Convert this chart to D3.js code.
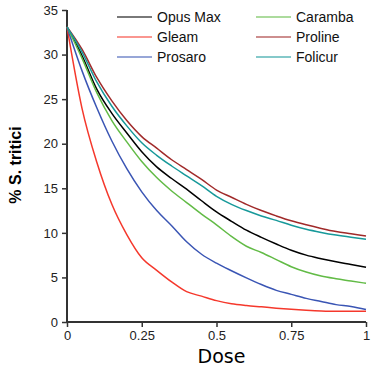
<!DOCTYPE html>
<html>
<head>
<meta charset="utf-8">
<script src="https://cdn.jsdelivr.net/npm/d3@7"></script>
<style>
  body { margin: 0; background: #fff; }
  text { font-family: "Liberation Sans", Arial, sans-serif; }
</style>
</head>
<body>
<div class="chart"></div>
<script>
var svgWidth = 373;
var svgHeight = 369;

var margin = { top: 10, right: 7, bottom: 47, left: 67 };
var width = svgWidth - margin.left - margin.right;
var height = svgHeight - margin.top - margin.bottom;

// Data
var doses = [0, 0.05, 0.1, 0.15, 0.2, 0.25, 0.3, 0.35, 0.4, 0.45, 0.5,
             0.55, 0.6, 0.65, 0.7, 0.75, 0.8, 0.85, 0.9, 0.95, 1];
var opusMax = [33.1, 29.9, 26.1, 23.4, 21.2, 19.1, 17.4, 16.1, 14.9, 13.6, 12.35,
               11.3, 10.3, 9.5, 8.75, 8.05, 7.5, 7.1, 6.75, 6.45, 6.14];
var gleam = [33.1, 24.0, 17.9, 13.2, 9.8, 7.2, 5.8, 4.5, 3.4, 2.9, 2.4,
             2.05, 1.85, 1.7, 1.55, 1.42, 1.32, 1.24, 1.2, 1.2, 1.2];
var prosaro = [33.1, 28.2, 24.0, 20.3, 17.2, 14.6, 12.5, 10.8, 9.0, 7.6, 6.6,
               5.75, 4.95, 4.2, 3.55, 3.1, 2.65, 2.3, 1.95, 1.75, 1.4];
var caramba = [33.1, 29.6, 25.7, 22.6, 20.2, 18.0, 16.2, 14.7, 13.4, 12.1, 10.9,
               9.6, 8.5, 7.8, 7.0, 6.2, 5.6, 5.15, 4.85, 4.6, 4.34];
var proline = [33.1, 30.6, 27.4, 24.8, 22.6, 20.8, 19.5, 18.2, 17.1, 16.0, 14.8,
               14.0, 13.2, 12.5, 11.9, 11.35, 10.9, 10.5, 10.15, 9.9, 9.65];
var folicur = [33.1, 30.3, 26.9, 24.2, 22.0, 20.1, 18.7, 17.5, 16.4, 15.3, 14.1,
               13.2, 12.5, 11.9, 11.4, 10.85, 10.4, 10.05, 9.75, 9.5, 9.28];

var seriesNames = ["Opus Max", "Gleam", "Prosaro", "Caramba", "Proline", "Folicur"];
var seriesValues = [opusMax, gleam, prosaro, caramba, proline, folicur];
var seriesColors = ["#000000", "#f5382c", "#3a55b4", "#62bb46", "#a02a2a", "#17999a"];

var xTicks = [0, 0.25, 0.5, 0.75, 1];
var yTicks = [0, 5, 10, 15, 20, 25, 30, 35];

var svg = d3.select(".chart")
  .append("svg")
  .attr("width", svgWidth)
  .attr("height", svgHeight);

var chartGroup = svg.append("g")
  .attr("transform", `translate(${margin.left}, ${margin.top})`);

var xScale = d3.scaleLinear().domain([0, 1]).range([0, width]);
var yScale = d3.scaleLinear().domain([0, 35]).range([height, 0]);

// axes
var bottomAxis = d3.axisBottom(xScale)
  .tickValues(xTicks)
  .tickFormat(d => d)
  .tickSize(5)
  .tickPadding(4);
var leftAxis = d3.axisLeft(yScale)
  .tickValues(yTicks)
  .tickSize(5)
  .tickPadding(4);

var xAxisG = chartGroup.append("g")
  .attr("transform", `translate(0, ${height})`)
  .call(bottomAxis);
var yAxisG = chartGroup.append("g")
  .call(leftAxis);

[xAxisG, yAxisG].forEach(function (g) {
  g.select(".domain").attr("stroke", "#333").attr("stroke-width", 2);
  g.selectAll(".tick line").attr("stroke", "#333").attr("stroke-width", 1.5);
  g.selectAll(".tick text")
    .attr("fill", "#222")
    .style("font-size", "13px")
    .style("font-family", "Liberation Sans, Arial, sans-serif");
});
xAxisG.select(".domain").attr("d", `M0,0H${width}`);
yAxisG.select(".domain").attr("d", `M0,${height}V0`);

// curves
var line = d3.line()
  .x((d, i) => xScale(doses[i]))
  .y(d => yScale(d))
  .curve(d3.curveMonotoneX);

chartGroup.selectAll(".curve")
  .data(seriesValues)
  .enter()
  .append("path")
  .attr("class", "curve")
  .attr("d", d => line(d))
  .attr("fill", "none")
  .attr("stroke", (d, i) => seriesColors[i])
  .attr("stroke-width", 1.5)
  .attr("stroke-linejoin", "round");

// legend
var legend = svg.append("g");
var legendItems = legend.selectAll("g")
  .data(seriesNames)
  .enter()
  .append("g")
  .attr("transform", (d, i) => `translate(${i < 3 ? 117 : 256}, ${17 + (i % 3) * 20})`);

legendItems.append("line")
  .attr("x1", 0).attr("x2", 35)
  .attr("y1", 0).attr("y2", 0)
  .attr("stroke", (d, i) => seriesColors[i])
  .attr("stroke-opacity", 0.7)
  .attr("stroke-width", 1.5);

legendItems.append("text")
  .attr("x", 40)
  .attr("dy", "0.35em")
  .style("font-size", "14px")
  .attr("fill", "#111")
  .text(d => d);

// axis titles
svg.append("text")
  .attr("transform", "translate(21, 165) rotate(-90)")
  .attr("text-anchor", "middle")
  .style("font-size", "16px")
  .style("font-weight", "bold")
  .text("% S. tritici");

svg.append("text")
  .attr("x", margin.left + width / 2 + 5)
  .attr("y", 363)
  .attr("text-anchor", "middle")
  .style("font-family", "DejaVu Sans, sans-serif")
  .style("font-size", "19px")
  .text("Dose");
</script>
</body>
</html>
